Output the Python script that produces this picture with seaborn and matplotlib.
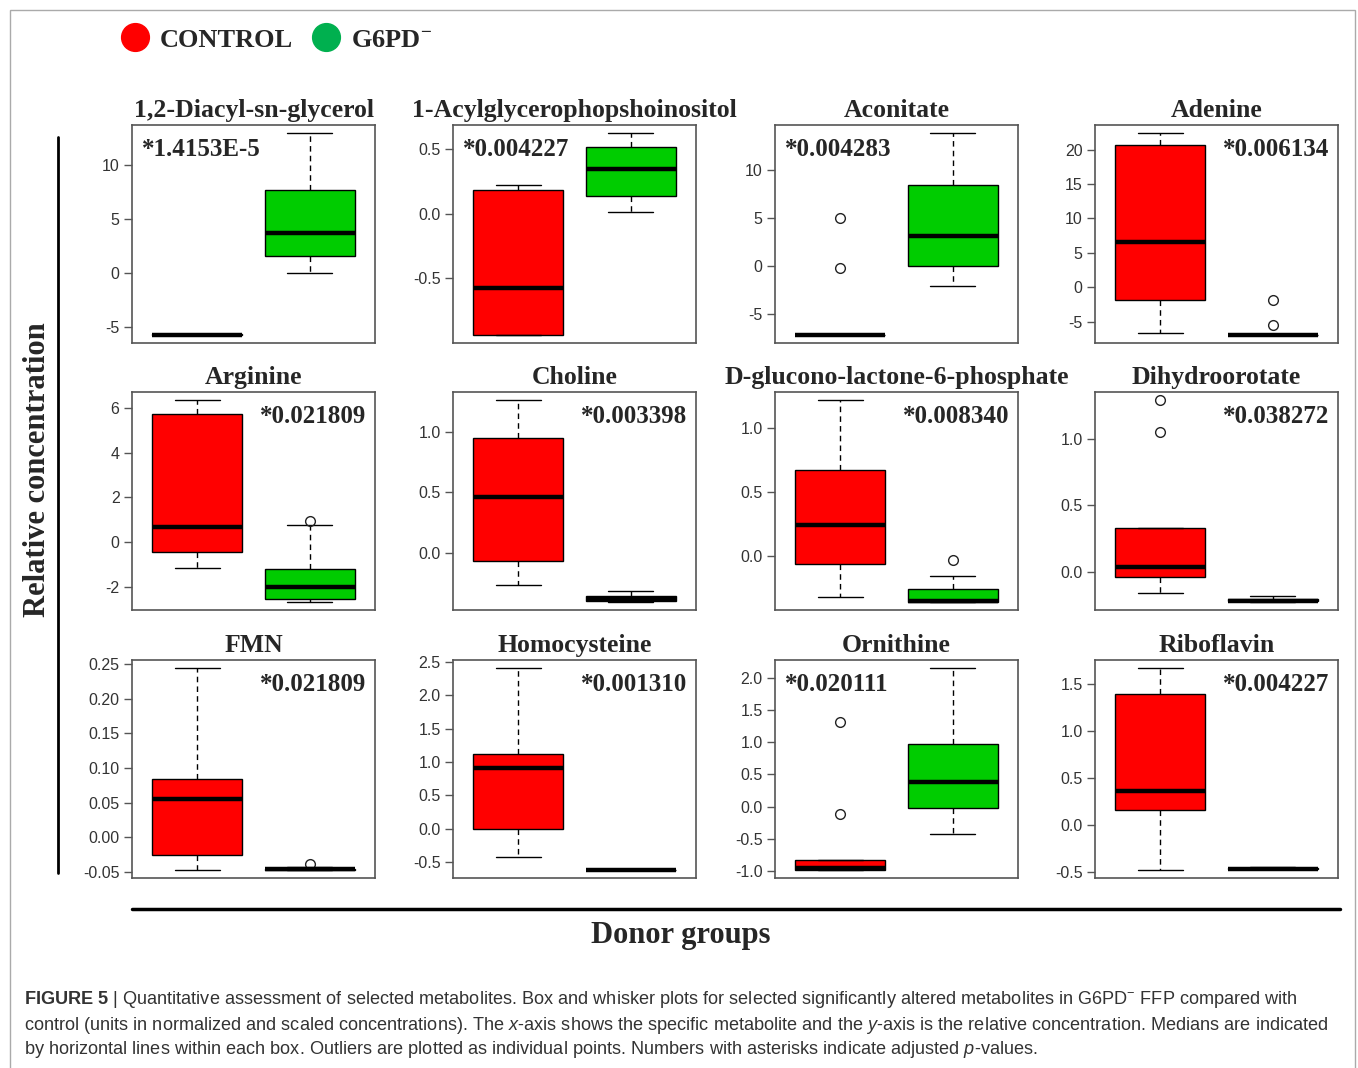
import matplotlib
matplotlib.use("Agg")
import matplotlib.pyplot as plt
import seaborn as sns
import pandas as pd
from matplotlib.lines import Line2D
from matplotlib.patches import Rectangle

sns.set_style("white")
plt.rcParams["font.family"] = ["Liberation Sans", "DejaVu Sans"]
plt.rcParams["axes.unicode_minus"] = False
plt.rcParams["mathtext.fontset"] = "custom"
plt.rcParams["mathtext.rm"] = "Liberation Sans"
plt.rcParams["mathtext.it"] = "Liberation Sans:italic"
plt.rcParams["mathtext.bf"] = "Liberation Sans:bold"

SERIF = ["Liberation Serif", "DejaVu Serif"]

# data
groups = ["CONTROL", "G6PD-"]
metabolites = ["1,2-Diacyl-sn-glycerol", "1-Acylglycerophopshoinositol", "Aconitate", "Adenine",
               "Arginine", "Choline", "D-glucono-lactone-6-phosphate", "Dihydroorotate",
               "FMN", "Homocysteine", "Ornithine", "Riboflavin"]
p_values = ["*1.4153E-5", "*0.004227", "*0.004283", "*0.006134",
            "*0.021809", "*0.003398", "*0.008340", "*0.038272",
            "*0.021809", "*0.001310", "*0.020111", "*0.004227"]
label_side = ["left", "left", "left", "right",
              "right", "right", "right", "right",
              "right", "right", "left", "right"]

control_vals = [
    [-5.78, -5.77, -5.76, -5.75, -5.75, -5.75, -5.74, -5.73, -5.72],
    [-0.94, -0.94, -0.94, -0.75, -0.58, -0.20, 0.18, 0.20, 0.22],
    [-7.2, -7.2, -7.2, -7.2, -7.2, -7.2, -7.2, -0.2, 5.0],
    [-6.6, -4.0, -1.9, 2.0, 6.6, 15.0, 20.6, 21.5, 22.4],
    [-1.18, -0.8, -0.45, 0.1, 0.68, 3.0, 5.73, 6.0, 6.36],
    [-0.26, -0.15, -0.06, 0.2, 0.46, 0.7, 0.95, 1.1, 1.26],
    [-0.32, -0.2, -0.06, 0.1, 0.24, 0.45, 0.67, 0.9, 1.22],
    [-0.16, -0.1, -0.04, 0.0, 0.04, 0.2, 0.33, 1.05, 1.29],
    [-0.047, -0.035, -0.026, 0.02, 0.055, 0.07, 0.084, 0.15, 0.244],
    [-0.42, -0.2, 0.0, 0.5, 0.91, 1.0, 1.12, 1.8, 2.41],
    [-0.98, -0.98, -0.98, -0.97, -0.95, -0.9, -0.82, -0.11, 1.32],
    [-0.48, -0.1, 0.16, 0.25, 0.36, 0.9, 1.39, 1.5, 1.67],
]
g6pd_vals = [
    [0.0, 0.9, 1.6, 2.8, 3.7, 5.5, 7.7, 10.0, 13.0],
    [0.01, 0.08, 0.14, 0.25, 0.35, 0.45, 0.52, 0.58, 0.625],
    [-2.1, -1.0, 0.0, 1.5, 3.1, 6.0, 8.5, 11.0, 13.9],
    [-6.9, -6.9, -6.9, -6.9, -6.9, -6.9, -6.9, -5.5, -1.9],
    [-2.68, -2.6, -2.55, -2.3, -2.0, -1.6, -1.2, 0.77, 0.95],
    [-0.40, -0.395, -0.39, -0.385, -0.38, -0.365, -0.35, -0.33, -0.31],
    [-0.36, -0.36, -0.36, -0.355, -0.35, -0.3, -0.26, -0.16, -0.03],
    [-0.225, -0.225, -0.22, -0.218, -0.215, -0.21, -0.2, -0.19, -0.18],
    [-0.047, -0.047, -0.047, -0.0465, -0.046, -0.0455, -0.045, -0.0435, -0.039],
    [-0.62, -0.62, -0.62, -0.62, -0.62, -0.62, -0.62, -0.62, -0.62],
    [-0.42, -0.2, -0.02, 0.2, 0.38, 0.7, 0.98, 1.5, 2.15],
    [-0.475, -0.475, -0.475, -0.472, -0.47, -0.465, -0.46, -0.455, -0.45],
]
y_ticks = [
    [-5, 0, 5, 10],
    [-0.5, 0.0, 0.5],
    [-5, 0, 5, 10],
    [-5, 0, 5, 10, 15, 20],
    [-2, 0, 2, 4, 6],
    [0.0, 0.5, 1.0],
    [0.0, 0.5, 1.0],
    [0.0, 0.5, 1.0],
    [-0.05, 0.0, 0.05, 0.10, 0.15, 0.20, 0.25],
    [-0.5, 0.0, 0.5, 1.0, 1.5, 2.0, 2.5],
    [-1.0, -0.5, 0.0, 0.5, 1.0, 1.5, 2.0],
    [-0.5, 0.0, 0.5, 1.0, 1.5],
]

palette = {"CONTROL": "#ff0000", "G6PD-": "#00cc00"}

W, H = 1358, 1068
fig = plt.figure(figsize=(W / 100, H / 100), dpi=100)

col_x = [132, 453, 775, 1095]
row_y = [125, 392, 660]
pw, ph = 243, 218

for i, name in enumerate(metabolites):
    r, c = divmod(i, 4)
    ax = fig.add_axes([col_x[c] / W, 1 - (row_y[r] + ph) / H, pw / W, ph / H])
    df = pd.DataFrame({
        "group": [groups[0]] * len(control_vals[i]) + [groups[1]] * len(g6pd_vals[i]),
        "value": control_vals[i] + g6pd_vals[i],
    })
    sns.boxplot(data=df, x="group", y="value", hue="group", palette=palette,
                saturation=1, width=0.8, linecolor="black", linewidth=1,
                whiskerprops={"linestyle": (0, (4, 3))},
                medianprops={"linewidth": 3.2, "color": "black"},
                flierprops={"marker": "o", "markerfacecolor": "none",
                            "markeredgecolor": "#222222", "markersize": 7,
                            "markeredgewidth": 1},
                legend=False, ax=ax)
    vals = control_vals[i] + g6pd_vals[i]
    lo, hi = min(vals), max(vals)
    pad = 0.04 * (hi - lo)
    ax.set_ylim(lo - pad, hi + pad)
    ax.set_xlim(-0.58, 1.58)
    ax.set_xticks([])
    ax.set_xlabel("")
    ax.set_ylabel("")
    ax.set_yticks(y_ticks[i])
    ax.tick_params(axis="y", left=True, length=6, width=1, color="#555555",
                   labelsize=11.5, labelcolor="#333333", pad=3)
    for s in ax.spines.values():
        s.set_color("#555555")
        s.set_linewidth(1.2)
    ax.set_title(name, fontsize=18.5, fontweight="bold", family=SERIF, pad=6)
    if label_side[i] == "left":
        ax.text(0.04, 0.94, p_values[i], transform=ax.transAxes, ha="left", va="top",
                fontsize=18, fontweight="bold", family=SERIF)
    else:
        ax.text(0.965, 0.94, p_values[i], transform=ax.transAxes, ha="right", va="top",
                fontsize=18, fontweight="bold", family=SERIF)

# legend
handles = [Line2D([], [], marker="o", ls="", markerfacecolor=col, markeredgecolor=col,
                  markersize=20) for col in ["#ff0000", "#00b04f"]]
fig.legend(handles, ["CONTROL", "G6PD$^{-}$"], loc="center left",
           bbox_to_anchor=(119 / W, 1 - 40 / H), ncol=2, frameon=False,
           prop={"family": SERIF, "weight": "bold", "size": 19},
           handletextpad=0.35, columnspacing=0.65, handlelength=1.2,
           borderaxespad=0, borderpad=0)

# shared axis labels and lines
fig.add_artist(Line2D([58 / W, 58 / W], [1 - 137 / H, 1 - 873 / H], color="black", lw=2))
fig.add_artist(Line2D([132 / W, 1340 / W], [1 - 909 / H, 1 - 909 / H], color="black", lw=2.5))
fig.text(38 / W, 1 - 470 / H, "Relative concentration", rotation=90, ha="center", va="center",
         fontsize=22, fontweight="bold", family=SERIF)
fig.text(681 / W, 1 - 935 / H, "Donor groups", ha="center", va="center",
         fontsize=22, fontweight="bold", family=SERIF)

# outer frame
fig.add_artist(Rectangle((10 / W, -0.02), 1345 / W, 1 - 10 / H + 0.02, fill=False,
                         edgecolor="#aaaaaa", lw=1, transform=fig.transFigure))

# caption
cap1 = (r"$\mathbf{FIGURE\ 5}$ | Quantitative assessment of selected metabolites. Box and whisker "
        r"plots for selected significantly altered metabolites in G6PD$^{-}$ FFP compared with")
cap2 = (r"control (units in normalized and scaled concentrations). The $x$-axis shows the specific "
        r"metabolite and the $y$-axis is the relative concentration. Medians are indicated")
cap3 = (r"by horizontal lines within each box. Outliers are plotted as individual points. "
        r"Numbers with asterisks indicate adjusted $p$-values.")
for k, line in enumerate([cap1, cap2, cap3]):
    fig.text(24 / W, 1 - (1000 + 25 * k) / H, line, ha="left", va="center",
             fontsize=13.1, color="#333333")

fig.savefig("out.png", dpi=100)
